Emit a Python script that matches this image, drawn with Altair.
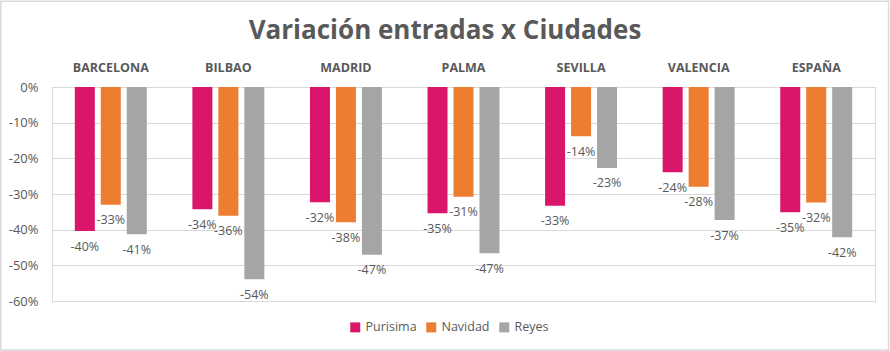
import altair as alt
import pandas as pd

title_text = "Variación entradas x Ciudades"
categories = ["BARCELONA", "BILBAO", "MADRID", "PALMA", "SEVILLA", "VALENCIA", "ESPAÑA"]
series = ["Purisima", "Navidad", "Reyes"]
purisima = [-40.4, -34.3, -32.3, -35.4, -33.3, -23.9, -35.1]
navidad = [-33.0, -36.1, -37.9, -30.8, -13.8, -28.0, -32.4]
reyes = [-41.3, -53.9, -47.0, -46.6, -22.7, -37.3, -42.1]
colors = ["#D9166A", "#ED7D31", "#A5A5A5"]
y_ticks = [0, -10, -20, -30, -40, -50, -60]

rows = []
for s, vals in zip(series, [purisima, navidad, reyes]):
    for c, v in zip(categories, vals):
        rows.append({"cat": c, "serie": s, "val": v, "label": f"{round(v)}%"})
df = pd.DataFrame(rows)

FONT = "Open Sans"
GREY = "#595959"

x = alt.X("cat:N", sort=categories,
          scale=alt.Scale(paddingInner=0.388, paddingOuter=0.194),
          axis=alt.Axis(orient="top", title=None, labelAngle=0, ticks=False, domain=False,
                        labelFont=FONT, labelFontWeight="bold", labelFontSize=12.5,
                        labelColor=GREY, labelPadding=13, minExtent=20, maxExtent=20))
xo = alt.XOffset("serie:N", sort=series, scale=alt.Scale(paddingInner=0.23, paddingOuter=0))
y = alt.Y("val:Q", scale=alt.Scale(domain=[-60, 0], nice=False),
          axis=alt.Axis(values=y_ticks, tickCount=7, title=None, ticks=False, domain=False,
                        labelExpr="datum.value + '%'", labelFont=FONT, labelFontSize=13,
                        labelColor=GREY, labelPadding=14, gridColor="#D9D9D9",
                        labelOverlap=False, minExtent=52, maxExtent=52))

bars = alt.Chart(df).mark_bar().encode(
    x=x, xOffset=xo, y=y,
    color=alt.Color("serie:N", sort=series,
                    scale=alt.Scale(domain=series, range=colors),
                    legend=alt.Legend(title=None, orient="none", direction="horizontal",
                                      legendX=297, legendY=234, padding=0,
                                      symbolType="square", symbolSize=100, symbolStrokeWidth=0,
                                      labelFont=FONT, labelFontSize=12.5, labelColor=GREY,
                                      labelOffset=4, columnPadding=8, labelLimit=200)),
)

labels = alt.Chart(df).mark_text(font=FONT, fontSize=12.5, color=GREY, dy=15.5,
                                 baseline="middle").encode(
    x=x, xOffset=xo, y=y, text="label:N")

title = alt.Chart(pd.DataFrame({"t": [title_text]})).mark_text(
    font=FONT, fontSize=26, fontWeight="bold", color=GREY, align="center",
    baseline="middle").encode(x=alt.value(393), y=alt.value(-56), text="t:N")

border = alt.Chart(pd.DataFrame({"a": [0]})).mark_rect(
    fill=None, stroke="#D9D9D9", strokeWidth=1.5).encode(
    x=alt.value(-51.2), x2=alt.value(836.5), y=alt.value(-85.8), y2=alt.value(263))

chart = alt.layer(bars, labels, title, border).properties(
    width=823, height=214,
    padding=0,
).configure_view(stroke=None).configure(background="white")

chart.save("out.html", embed_options={"renderer": "svg", "actions": False})
